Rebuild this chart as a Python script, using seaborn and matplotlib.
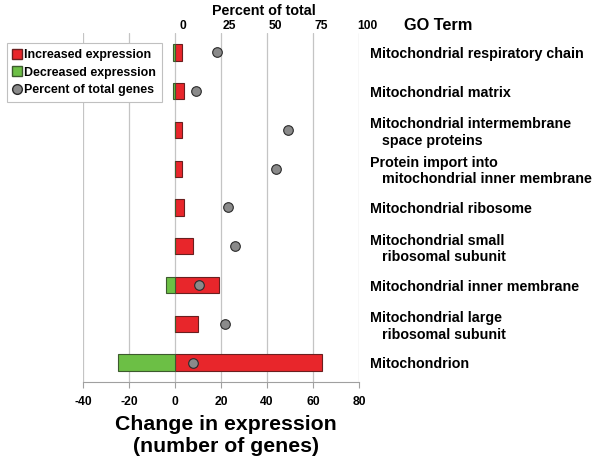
import matplotlib
matplotlib.use("Agg")
import matplotlib.pyplot as plt
import numpy as np
import seaborn as sns
from matplotlib.lines import Line2D
from matplotlib.transforms import ScaledTranslation

# GO terms, top to bottom
terms = ["Mitochondrial respiratory chain",
         "Mitochondrial matrix",
         "Mitochondrial intermembrane\n   space proteins",
         "Protein import into\n   mitochondrial inner membrane",
         "Mitochondrial ribosome",
         "Mitochondrial small\n   ribosomal subunit",
         "Mitochondrial inner membrane",
         "Mitochondrial large\n   ribosomal subunit",
         "Mitochondrion"]
increased = [3, 4, 3, 3, 4, 8, 19, 10, 64]
decreased = [-1, -1, 0, 0, 0, 0, -4, 0, -25]
percent_total = [22.7, 11.4, 61.6, 55.0, 28.6, 32.4, 13.0, 27.0, 9.7]

change_ticks = [-40, -20, 0, 20, 40, 60, 80]
percent_ticks = [0, 25, 50, 75, 100]

RED = "#e8262b"
GREEN = "#6cbf45"
DOT = "#8a8a8a"
GRID = "#c4c4c4"

sns.set_style("white")
plt.rcParams["font.family"] = ["Liberation Sans", "DejaVu Sans"]
plt.rcParams["font.weight"] = "bold"
plt.rcParams["axes.unicode_minus"] = False
plt.rcParams["text.color"] = "black"
plt.rcParams["xtick.color"] = "black"
plt.rcParams["ytick.color"] = "black"
plt.rcParams["xtick.labelcolor"] = "black"
plt.rcParams["ytick.labelcolor"] = "black"

fig = plt.figure(figsize=(6, 4.68), dpi=100)
ax = fig.add_axes([83 / 600, 1 - 382 / 468, 276 / 600, 349 / 468])

sns.barplot(x=increased, y=terms, orient="h", color=RED, width=0.42,
            edgecolor="#6a1f1f", linewidth=0.8, saturation=1, ax=ax)
sns.barplot(x=decreased, y=terms, orient="h", color=GREEN, width=0.42,
            edgecolor="#3d5a2e", linewidth=0.8, saturation=1, ax=ax)

ax.set_xlim(-40, 80)
ax.set_xticks(change_ticks)
ax.xaxis.grid(True, color=GRID, linewidth=0.9)
ax.set_axisbelow(True)
for side in ["left", "right", "top"]:
    ax.spines[side].set_visible(False)
ax.spines["bottom"].set_color("#a0a0a0")
ax.tick_params(axis="x", bottom=True, length=4, color="#a0a0a0", pad=6,
               labelsize=8.7, labelcolor="black")
for lab in ax.get_xticklabels():
    lab.set_fontweight("bold")
ax.set_xlabel("")
ax.set_ylabel("")

# GO term labels on the right side
ax.yaxis.tick_right()
ax.tick_params(axis="y", length=0, pad=8, labelsize=10.3, labelcolor="black")
for lab in ax.get_yticklabels():
    lab.set_fontweight("bold")
    lab.set_horizontalalignment("left")
    lab.set_multialignment("left")

# percent of total on a secondary top axis
ax2 = ax.twiny()
sns.scatterplot(x=percent_total, y=np.arange(len(terms)), ax=ax2, s=48,
                color=DOT, edgecolor="#2a2a2a", linewidth=0.8, zorder=5)
ax2.set_xlim(-50, 100)
ax.set_ylim(len(terms) - 0.5, -0.5)
ax2.set_xticks(percent_ticks)
ax2.tick_params(axis="x", top=True, length=0, pad=1, labelsize=8.7,
                labelcolor="black")
ax2.set_xlabel("")
ax2.set_ylabel("")
for side in ax2.spines:
    ax2.spines[side].set_visible(False)
shift = ScaledTranslation(6 / 72, 0, fig.dpi_scale_trans)
for lab in ax2.get_xticklabels():
    lab.set_fontweight("bold")
    lab.set_transform(lab.get_transform() + shift)

fig.text(264 / 600, 1 - 11 / 468, "Percent of total", ha="center",
         va="center", fontsize=10.3, fontweight="bold", color="black")
fig.text(438 / 600, 1 - 26 / 468, "GO Term", ha="center", va="center",
         fontsize=11.8, fontweight="bold", color="black")
fig.text(226 / 600, 1 - 436 / 468, "Change in expression\n(number of genes)",
         ha="center", va="center", fontsize=15.3, fontweight="bold",
         linespacing=1.2, color="black")

handles = [Line2D([], [], marker="s", linestyle="", markersize=6.5,
                  markerfacecolor=RED, markeredgecolor="#6a1f1f"),
           Line2D([], [], marker="s", linestyle="", markersize=6.5,
                  markerfacecolor=GREEN, markeredgecolor="#3d5a2e"),
           Line2D([], [], marker="o", linestyle="", markersize=7,
                  markerfacecolor=DOT, markeredgecolor="#2a2a2a")]
leg = fig.legend(handles, ["Increased expression", "Decreased expression",
                           "Percent of total genes"],
                 loc="upper left", bbox_to_anchor=(7 / 600, 1 - 43 / 468),
                 bbox_transform=fig.transFigure,
                 prop={"weight": "bold", "size": 8.9}, frameon=True,
                 fancybox=False, edgecolor="#c0c0c0", framealpha=1,
                 handlelength=0.6, handletextpad=0.3, labelspacing=0.45,
                 borderpad=0.5, borderaxespad=0)
leg.get_frame().set_linewidth(0.8)
for t in leg.get_texts():
    t.set_color("black")

fig.savefig("out.png", dpi=100)
